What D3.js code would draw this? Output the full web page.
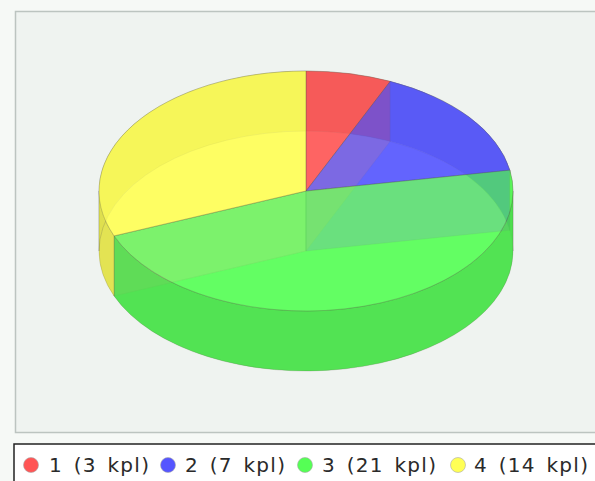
<!DOCTYPE html>
<html>
<head>
<meta charset="utf-8">
<script src="https://cdn.jsdelivr.net/npm/d3@7"></script>
<style>
html,body{margin:0;padding:0;background:#f6f9f6;overflow:hidden}
svg{display:block}
text{font-family:"DejaVu Sans",sans-serif;font-size:20px;letter-spacing:1.3px;word-spacing:3px;fill:#2a2a2a}
</style>
</head>
<body>
<svg id="chart" width="595" height="481"></svg>
<script>
// Slices of the 3D pie
const categories = ["1", "2", "3", "4"];
const values = [3, 7, 21, 14];
const unit = "kpl";
const colors = ["#ff5555", "#5555ff", "#55ff55", "#ffff55"];

const svg = d3.select("#chart");
const cx = 306, cy = 191, rx = 207, ry = 120, depth = 60;
const alpha = 0.7;
const rimAlpha = 0.85;
const rimShade = c => d3.rgb(c).darker(0.39).formatHex();
const wallShade = c => d3.rgb(c).darker(1).formatHex();
const wallTint = "#b0a8c0";

// plot panel
svg.append("rect").attr("x", 15.5).attr("y", 11.5).attr("width", 590).attr("height", 421)
  .attr("fill", "#eff3f0").attr("stroke", "#bcc4c0").attr("stroke-width", 1.5);

const arcs = d3.pie().sort(null).value(d => d)(values);
const px = a => cx + rx * Math.sin(a);
const py = (a, z) => cy + z - ry * Math.cos(a);

const sector = (d, z) => {
  const large = d.endAngle - d.startAngle > Math.PI ? 1 : 0;
  return `M${cx},${cy + z}L${px(d.startAngle)},${py(d.startAngle, z)}` +
         `A${rx},${ry} 0 ${large} 1 ${px(d.endAngle)},${py(d.endAngle, z)}Z`;
};

// A rim band only stays a simple outline between the ellipse's left and right
// extremes, so each slice's rim is cut at those two angles.
const rimPieces = arcs.flatMap((d, i) => {
  const cuts = [Math.PI / 2, 3 * Math.PI / 2].filter(a => a > d.startAngle && a < d.endAngle);
  const stops = [d.startAngle, ...cuts, d.endAngle];
  return d3.pairs(stops).map(([a0, a1]) => ({ a0, a1, color: colors[i] }));
});
const rim = ({ a0, a1 }) =>
  `M${px(a0)},${py(a0, 0)}A${rx},${ry} 0 0 1 ${px(a1)},${py(a1, 0)}` +
  `L${px(a1)},${py(a1, depth)}A${rx},${ry} 0 0 0 ${px(a0)},${py(a0, depth)}Z`;

const radial = a =>
  `M${cx},${cy}L${px(a)},${py(a, 0)}L${px(a)},${py(a, depth)}L${cx},${cy + depth}Z`;

// region of the chart lying outside the underside ellipse
const outside = svg.append("clipPath").attr("id", "outside-underside");
outside.append("path").attr("clip-rule", "evenodd").attr("d",
  `M0,0H595V481H0Z` +
  `M${cx - rx},${cy + depth}A${rx},${ry} 0 1 0 ${cx + rx},${cy + depth}` +
  `A${rx},${ry} 0 1 0 ${cx - rx},${cy + depth}Z`);

const pie = svg.append("g");
const outline = "rgba(90,90,70,0.32)";

// underside of the pie
pie.selectAll("path.bottom").data(arcs).join("path").attr("class", "bottom")
  .attr("d", d => sector(d, depth)).attr("fill", (d, i) => colors[i]).attr("fill-opacity", alpha);

// radial side walls where the slices meet
pie.selectAll("path.wall").data(arcs).join("path").attr("class", "wall")
  .attr("d", d => radial(d.startAngle)).attr("fill", wallTint).attr("fill-opacity", 0.5)
  .attr("stroke", outline).attr("stroke-width", 0.7);

// the same walls carry the neighbouring slice's colour beyond the underside
pie.selectAll("path.wallback").data(arcs).join("path").attr("class", "wallback")
  .attr("d", d => radial(d.startAngle))
  .attr("fill", (d, i) => wallShade(colors[(i + colors.length - 1) % colors.length]))
  .attr("fill-opacity", 0.8)
  .attr("clip-path", "url(#outside-underside)");

// curved outer rim
pie.selectAll("path.rim").data(rimPieces).join("path").attr("class", "rim")
  .attr("d", rim).attr("fill", d => rimShade(d.color)).attr("fill-opacity", rimAlpha)
  .attr("stroke", outline).attr("stroke-width", 0.7);

// top face
pie.selectAll("path.top").data(arcs).join("path").attr("class", "top")
  .attr("d", d => sector(d, 0)).attr("fill", (d, i) => colors[i]).attr("fill-opacity", alpha)
  .attr("stroke", outline).attr("stroke-width", 0.8);

// legend box
svg.append("rect").attr("x", 14).attr("y", 444).attr("width", 600).attr("height", 60)
  .attr("fill", "#ffffff").attr("stroke", "#222").attr("stroke-width", 1.5);

const legendDot = [31, 168, 305, 458];
const legendText = [49, 185, 322, 474];
const legend = svg.append("g").selectAll("g").data(categories).join("g");
legend.append("circle").attr("cx", (d, i) => legendDot[i]).attr("cy", 465).attr("r", 7.5)
  .attr("fill", (d, i) => colors[i]).attr("stroke", "#aaa").attr("stroke-width", 0.6);
legend.append("text").attr("x", (d, i) => legendText[i]).attr("y", 472)
  .text((d, i) => `${d} (${values[i]} ${unit})`);
</script>
</body>
</html>
